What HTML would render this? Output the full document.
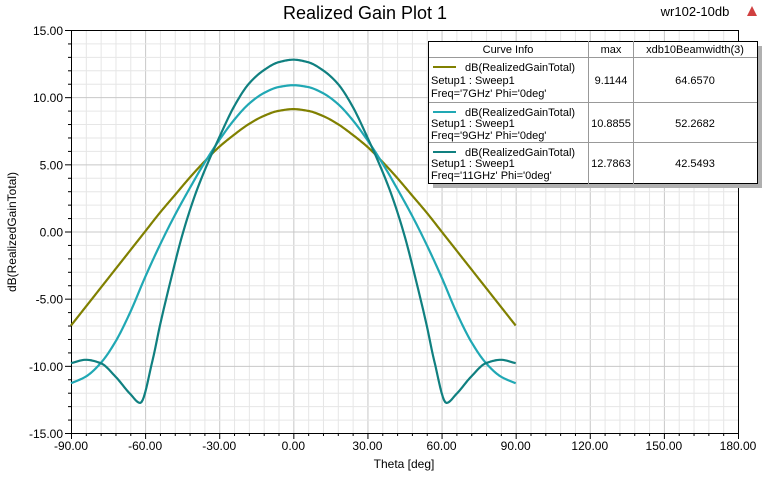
<!DOCTYPE html>
<html><head><meta charset="utf-8"><style>
body{margin:0;background:#fff;font-family:"Liberation Sans",Arial,sans-serif}
svg text{font-family:"Liberation Sans",Arial,sans-serif}
</style></head><body>
<svg id="chart" width="766" height="474" xmlns="http://www.w3.org/2000/svg">
<rect width="766" height="474" fill="#fff"/>
<text x="365" y="19" font-size="18" text-anchor="middle">Realized Gain Plot 1</text>
<text x="695" y="16" font-size="13" text-anchor="middle">wr102-10db</text>
<path d="M752 6 L757 16 L747 16 Z" fill="#d04040"/>
<g id="grid"></g>
<g id="axes"></g>
<g id="series"></g>
<text x="16" y="232" font-size="12" text-anchor="middle" transform="rotate(-90 16 232)">dB(RealizedGainTotal)</text>
<text x="404" y="468" font-size="12" text-anchor="middle">Theta [deg]</text>
<g id="legend">
<rect x="433" y="46" width="329" height="142" fill="#b0b0b0"/>
<rect x="428.5" y="41.5" width="329" height="142" fill="#fff" stroke="#000"/>
<line x1="588.5" y1="41" x2="588.5" y2="184" stroke="#999"/>
<line x1="633.5" y1="41" x2="633.5" y2="184" stroke="#999"/>
<line x1="429" y1="57.5" x2="757" y2="57.5" stroke="#999"/>
<line x1="429" y1="102.5" x2="757" y2="102.5" stroke="#999"/>
<line x1="429" y1="142.5" x2="757" y2="142.5" stroke="#999"/>
<g font-size="11">
<text x="508" y="53" text-anchor="middle">Curve Info</text>
<text x="611" y="53" text-anchor="middle">max</text>
<text x="695" y="53" text-anchor="middle">xdb10Beamwidth(3)</text>
<g>
<line x1="433" y1="67" x2="456" y2="67" stroke="#808000" stroke-width="2"/>
<text x="465" y="71">dB(RealizedGainTotal)</text><text x="431" y="84">Setup1 : Sweep1</text><text x="431" y="97">Freq='7GHz' Phi='0deg'</text>
<text x="611" y="84" text-anchor="middle">9.1144</text><text x="695" y="84" text-anchor="middle">64.6570</text></g>
<g>
<line x1="433" y1="112" x2="456" y2="112" stroke="#20a8b4" stroke-width="2"/>
<text x="465" y="116">dB(RealizedGainTotal)</text><text x="431" y="127">Setup1 : Sweep1</text><text x="431" y="139">Freq='9GHz' Phi='0deg'</text>
<text x="611" y="127" text-anchor="middle">10.8855</text><text x="695" y="127" text-anchor="middle">52.2682</text></g>
<g>
<line x1="433" y1="152" x2="456" y2="152" stroke="#108080" stroke-width="2"/>
<text x="465" y="156">dB(RealizedGainTotal)</text><text x="431" y="167">Setup1 : Sweep1</text><text x="431" y="179">Freq='11GHz' Phi='0deg'</text>
<text x="611" y="167" text-anchor="middle">12.7863</text><text x="695" y="167" text-anchor="middle">42.5493</text></g>
</g></g>
</svg>
<script>
const xTicks=[-90,-60,-30,0,30,60,90,120,150,180];
const yTicks=[15,10,5,0,-5,-10,-15];
const theta=[-90,-84,-78,-72,-66,-60,-54,-48,-42,-36,-30,-24,-18,-12,-6,0,6,12,18,24,30,36,42,48,54,60,66,72,78,84,90];
const gain7=[-7.0,-5.6,-4.2,-2.8,-1.4,0,1.4,2.7,4.0,5.2,6.3,7.2,8.0,8.6,8.98,9.11,8.98,8.6,8.0,7.2,6.3,5.2,4.0,2.7,1.4,0,-1.4,-2.8,-4.2,-5.6,-7.0];
const gain9=[-11.3,-10.8,-9.8,-8.2,-6.0,-3.4,-1.0,1.2,3.2,5.1,6.8,8.3,9.5,10.3,10.75,10.89,10.75,10.3,9.5,8.3,6.8,5.1,3.2,1.2,-1.0,-3.4,-6.0,-8.2,-9.8,-10.8,-11.3];
const theta11=[-90,-84,-78,-72,-66,-62,-57,-54,-50,-45,-40,-36,-30,-24,-18,-12,-6,0,6,12,18,24,30,36,40,45,50,54,57,62,66,72,78,84,90];
const gain11=[-9.8,-9.55,-9.8,-10.8,-12.1,-12.76,-9.6,-7.0,-3.9,-0.3,2.6,4.5,7.0,9.3,11.0,12.0,12.6,12.79,12.6,12.0,11.0,9.3,7.0,4.5,2.6,-0.3,-3.9,-7.0,-9.6,-12.76,-12.1,-10.8,-9.8,-9.55,-9.8];
const X0=71,X1=738,Y0=30,Y1=433;
const xs=v=>X0+(v+90)/270*(X1-X0);
const ys=v=>Y1-(v+15)/30*(Y1-Y0);
const NS='http://www.w3.org/2000/svg';
function mk(tag,attrs,parent){const e=document.createElementNS(NS,tag);for(const k in attrs)e.setAttribute(k,attrs[k]);parent.appendChild(e);return e;}
const grid=document.getElementById('grid'),axes=document.getElementById('axes'),ser=document.getElementById('series');
for(let d=-90;d<=180;d+=6){const l=mk('line',{x1:xs(d)+.5,x2:xs(d)+.5,y1:Y0,y2:Y1,stroke:(d%30===0)?'#c8c8c8':'#e6e6e6'},grid);

}
for(let v=-15;v<=15;v+=1){const l=mk('line',{x1:X0,x2:X1,y1:ys(v)+.5,y2:ys(v)+.5,stroke:(v%5===0)?'#c8c8c8':'#e6e6e6'},grid);


const t=mk('line',{x1:X0-(v%5===0?6:3),x2:X0,y1:ys(v)+.5,y2:ys(v)+.5,stroke:'#000'},axes);

}
for(let d=-90;d<=180;d+=6){const t=mk('line',{x1:xs(d)+.5,x2:xs(d)+.5,y1:Y1,y2:Y1+(d%30===0?6:3),stroke:'#000'},axes);

}
const fr=mk('rect',{x:X0+.5,y:Y0+.5,width:X1-X0,height:Y1-Y0,fill:'none',stroke:'#000'},axes);


xTicks.forEach(d=>{const t=mk('text',{x:xs(d),y:Y1+17,'font-size':12,'text-anchor':'middle'},axes);t.textContent=d.toFixed(2);

});
yTicks.forEach(v=>{const t=mk('text',{x:X0-8,y:ys(v)+5,'font-size':12,'text-anchor':'end'},axes);t.textContent=v.toFixed(2);

});
function monotone(xa,ya){const n=xa.length,h=[],del=[],m=new Array(n);
for(let i=0;i<n-1;i++){h.push(xa[i+1]-xa[i]);del.push((ya[i+1]-ya[i])/h[i]);}
m[0]=del[0];m[n-1]=del[n-2];
for(let i=1;i<n-1;i++){if(del[i-1]*del[i]<=0)m[i]=0;else{const w1=2*h[i]+h[i-1],w2=h[i]+2*h[i-1];m[i]=(w1+w2)/(w1/del[i-1]+w2/del[i]);}}
return t=>{let j=0;while(j<n-2&&t>xa[j+1])j++;const s=(t-xa[j])/h[j],s2=s*s,s3=s2*s;
return (2*s3-3*s2+1)*ya[j]+(s3-2*s2+s)*h[j]*m[j]+(-2*s3+3*s2)*ya[j+1]+(s3-s2)*h[j]*m[j+1];};}
function pathFor(xa,ya){const f=monotone(xa,ya);let d='';for(let t=xa[0];t<=xa[xa.length-1]+1e-9;t+=0.5){d+=(d?'L':'M')+xs(t).toFixed(2)+' '+ys(f(t)).toFixed(2);}return d;}
[[theta,gain7,'#808000','curve-7ghz'],[theta,gain9,'#20a8b4','curve-9ghz'],[theta11,gain11,'#108080','curve-11ghz']].forEach(([xa,v,c,n])=>{
const p=mk('path',{d:pathFor(xa,v),fill:'none',stroke:c,'stroke-width':2.2,'stroke-linejoin':'round'},ser);

});
</script>
</body></html>
